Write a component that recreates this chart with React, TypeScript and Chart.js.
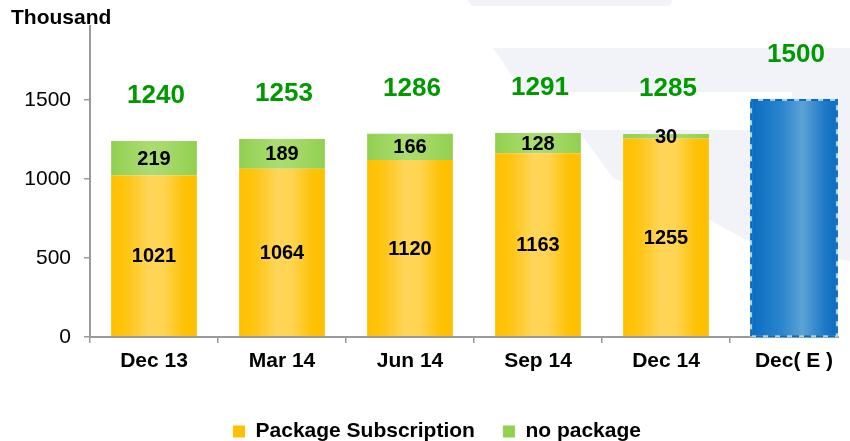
import React, { useEffect, useRef } from "react";
import { Chart, registerables } from "chart.js";

Chart.register(...registerables);

const categories = ["Dec 13", "Mar 14", "Jun 14", "Sep 14", "Dec 14", "Dec( E )"];
const packageSubscription = [1021, 1064, 1120, 1163, 1255, null];
const noPackage = [219, 189, 166, 128, 30, null];
const estimate = [null, null, null, null, null, 1500];
const totals = [1240, 1253, 1286, 1291, 1285, 1500];
const yTicks = [0, 500, 1000, 1500];
const yMax = 1970;
const seriesNames = ["Package Subscription", "no package", "Estimate"];

const FONT = "'Liberation Sans', Arial, Helvetica, sans-serif";
const BAR_PCT = 0.67;

const yellowStops: [number, string][] = [
  [0, "#FFC000"], [0.18, "#FFC412"], [0.45, "#FFD65A"], [0.62, "#FFD450"], [0.85, "#FFC105"], [1, "#FFC000"],
];
const greenStops: [number, string][] = [
  [0, "#92D050"], [0.45, "#ABDC72"], [0.62, "#A6DA6A"], [1, "#92D050"],
];
const blueStops: [number, string][] = [
  [0, "#0A6CC0"], [0.35, "#2A85CC"], [0.6, "#5CA2D6"], [0.85, "#1F7AC6"], [1, "#0A6CC0"],
];

function gradientFill(stops: [number, string][]) {
  return (ctx: any) => {
    const chart = ctx.chart;
    const area = chart.chartArea;
    const xs = chart.scales && chart.scales.x;
    if (!area || !xs || ctx.dataIndex === undefined) return stops[0][1];
    const cw = area.width / categories.length;
    const bw = cw * BAR_PCT;
    const cx = xs.getPixelForValue(ctx.dataIndex);
    if (!isFinite(cx)) return stops[0][1];
    const g = chart.ctx.createLinearGradient(cx - bw / 2, 0, cx + bw / 2, 0);
    stops.forEach(([o, c]) => g.addColorStop(o, c));
    return g;
  };
}

const backgroundPlugin = {
  id: "bgShapes",
  beforeDraw(chart: any) {
    const c = chart.ctx;
    const W = chart.width;
    c.save();
    c.fillStyle = "#F2F3F8";
    const polys = [
      [[467, 0], [673, 0], [670, 6], [472, 6]],
      [[493, 48], [W, 48], [W, 92], [523, 92]],
      [[578, 130], [792, 130], [792, 92], [W, 92], [W, 265], [752, 243], [710, 220], [613, 178]],
    ];
    polys.forEach((p) => {
      c.beginPath();
      p.forEach(([x, y], i) => (i ? c.lineTo(x, y) : c.moveTo(x, y)));
      c.closePath();
      c.fill();
    });
    c.restore();
  },
};

const labelsPlugin = {
  id: "valueLabels",
  afterDatasetsDraw(chart: any) {
    const c = chart.ctx;
    const area = chart.chartArea;
    const ys = chart.scales.y;
    const xs = chart.scales.x;
    c.save();
    // x axis line (ends just past the last bar)
    const estMeta = chart.getDatasetMeta(2);
    const lastEl: any = estMeta.data[categories.length - 1];
    const axisEnd = lastEl ? lastEl.x + lastEl.width / 2 + 2 : area.right;
    c.strokeStyle = "#9A9A9A";
    c.lineWidth = 2;
    c.beginPath();
    c.moveTo(area.left, area.bottom);
    c.lineTo(axisEnd, area.bottom);
    c.stroke();

    // dashed border of estimate bar
    estMeta.data.forEach((el: any, i: number) => {
      if (estimate[i] == null) return;
      const left = el.x - el.width / 2;
      const top = el.y;
      const h = el.base - el.y;
      c.lineWidth = 2;
      c.setLineDash([]);
      c.strokeStyle = "#A8D6E6";
      c.strokeRect(left, top, el.width, h);
      c.setLineDash([7, 5]);
      c.strokeStyle = "#0A6CC0";
      c.strokeRect(left, top, el.width, h);
      c.setLineDash([]);
    });

    // inner segment labels
    c.fillStyle = "#000";
    c.font = `bold 20px ${FONT}`;
    c.textAlign = "center";
    c.textBaseline = "middle";
    [0, 1].forEach((di) => {
      const meta = chart.getDatasetMeta(di);
      const vals = di === 0 ? packageSubscription : noPackage;
      meta.data.forEach((el: any, i: number) => {
        if (vals[i] == null) return;
        const yMid = (el.y + el.base) / 2;
        c.fillText(String(vals[i]), el.x, yMid + 1);
      });
    });

    // totals
    c.fillStyle = "#009A00";
    c.font = `bold 26px ${FONT}`;
    totals.forEach((t, i) => {
      const x = xs.getPixelForValue(i) + 2;
      const y = ys.getPixelForValue(t) - 45;
      c.fillText(String(t), x, y);
    });

    // unit title
    c.fillStyle = "#000";
    c.font = `bold 21px ${FONT}`;
    c.textAlign = "left";
    c.fillText("Thousand", 11, 18);
    c.restore();
  },
};

export default function App() {
  const ref = useRef<HTMLCanvasElement | null>(null);

  useEffect(() => {
    if (!ref.current) return;
    const chart = new Chart(ref.current, {
      type: "bar",
      data: {
        labels: categories,
        datasets: [
          {
            label: seriesNames[0],
            data: packageSubscription as any,
            backgroundColor: gradientFill(yellowStops) as any,
            borderWidth: 0,
            barPercentage: BAR_PCT,
            categoryPercentage: 1,
          },
          {
            label: seriesNames[1],
            data: noPackage as any,
            backgroundColor: gradientFill(greenStops) as any,
            borderWidth: 0,
            barPercentage: BAR_PCT,
            categoryPercentage: 1,
          },
          {
            label: seriesNames[2],
            data: estimate as any,
            backgroundColor: gradientFill(blueStops) as any,
            borderWidth: 0,
            barPercentage: BAR_PCT,
            categoryPercentage: 1,
          },
        ],
      },
      options: {
        animation: false,
        responsive: false,
        maintainAspectRatio: false,
        layout: { padding: { top: 23, right: 0, left: 4, bottom: 0 } },
        plugins: {
          tooltip: { enabled: false },
          legend: {
            position: "bottom",
            labels: {
              font: { family: FONT, size: 21, weight: "bold" },
              color: "#000",
              boxWidth: 12,
              boxHeight: 12,
              padding: 28,
              generateLabels: () => [
                { text: seriesNames[0], fillStyle: "#FFC000", strokeStyle: "rgba(0,0,0,0)", lineWidth: 0, datasetIndex: 0, hidden: false },
                { text: seriesNames[1], fillStyle: "#92D050", strokeStyle: "rgba(0,0,0,0)", lineWidth: 0, datasetIndex: 1, hidden: false },
              ],
            },
          },
        },
        scales: {
          x: {
            stacked: true,
            afterFit: (s: any) => { s.height = 56; },
            border: { display: false },
            grid: { display: true, drawOnChartArea: false, drawTicks: true, tickLength: 6, color: "#9A9A9A", lineWidth: 1.5, offset: true },
            ticks: {
              font: { family: FONT, size: 21, weight: "bold" },
              color: "#000",
              padding: 6,
              maxRotation: 0,
              autoSkip: false,
            },
          },
          y: {
            stacked: true,
            min: 0,
            max: yMax,
            afterFit: (s: any) => { s.width = 86; },
            afterBuildTicks: (s: any) => { s.ticks = yTicks.map((v) => ({ value: v })); },
            border: { display: true, color: "#9A9A9A", width: 2 },
            grid: { display: true, drawOnChartArea: false, drawTicks: true, tickLength: 6, color: "#9A9A9A", lineWidth: 1.5 },
            ticks: {
              font: { family: FONT, size: 21 },
              color: "#000",
              padding: 13,
              callback: (v: any) => String(v),
            },
          },
          yRight: {
            type: "linear",
            position: "right",
            display: true,
            afterFit: (s: any) => { s.width = 12; },
            border: { display: false },
            grid: { display: false },
            ticks: { display: false },
          },
        },
      },
      plugins: [backgroundPlugin, labelsPlugin],
    });
    return () => chart.destroy();
  }, []);

  return (
    <div style={{ position: "fixed", left: 0, top: 0, width: 850, height: 441, overflow: "hidden", background: "#fff" }}>
      <canvas ref={ref} width={870} height={452} style={{ display: "block", width: 870, height: 452 }} />
    </div>
  );
}
